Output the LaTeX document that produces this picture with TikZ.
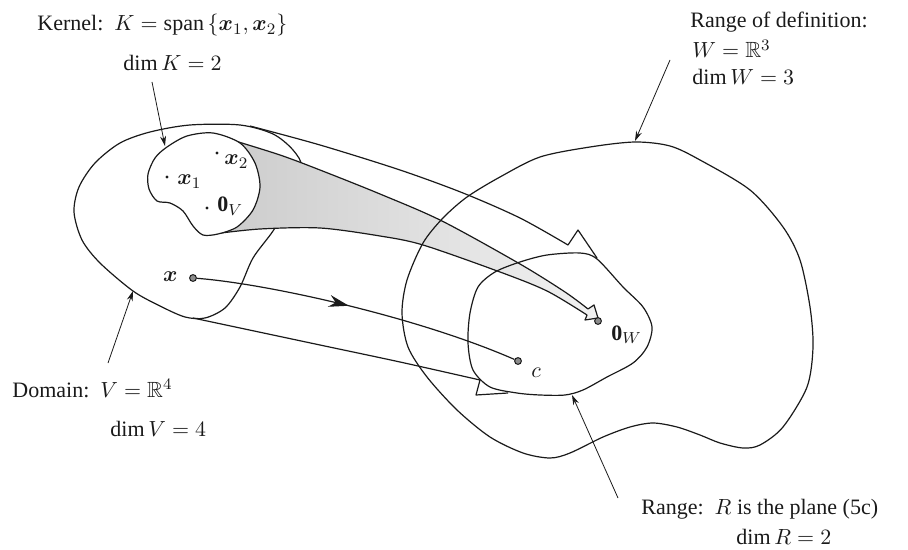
\documentclass[tikz,border=0pt]{standalone}
\usepackage{amsmath}
\usepackage{amssymb}
\usepackage{fontspec}
\setmainfont{Liberation Serif}
\usepackage{tikz}
\usepackage{xcolor}
\usetikzlibrary{arrows.meta, decorations.markings}
\definecolor{mapInk}{HTML}{1A1A1A}
\definecolor{mapGray}{HTML}{8C8C8C}
\tikzset{
  blob/.style={draw=mapInk, line width=0.6pt, line join=round},
  pointer/.style={draw=mapInk, line width=0.4pt, -{Stealth[length=5pt,width=3pt]}},
  tinydot/.style={circle, fill=mapInk, inner sep=0pt, minimum size=1.6pt},
  ringdot/.style={circle, draw=mapInk, fill=mapGray, line width=0.5pt, inner sep=0pt, minimum size=3.4pt},
  lbl/.style={anchor=base west, inner sep=0pt, text=mapInk},
  midhead/.style={postaction={decorate}, decoration={markings,
      mark=at position 0.47 with {\arrow{Stealth[length=10pt,width=6pt]}}}}
}

\begin{document}
\begin{tikzpicture}[x=0.5pt, y=-0.5pt, font=\fontsize{11}{13}\selectfont]
    \useasboundingbox (0,0) rectangle (908,550);
    % domain V
    \draw[blob] plot[smooth cycle] coordinates {(120,143) (150,132) (190,125) (240,125) (273,134)
      (293,150) (302,168) (292,200) (273,231) (253,258) (240,287) (225,308) (205,318) (185,317)
      (160,306) (133,291) (100,263) (82,240) (74,212) (79,187) (95,163)};
    % shaded band, kernel -> 0_W
    \shadedraw[blob, left color=mapGray!45, right color=mapGray!12]
      plot[smooth] coordinates {(232,140) (280,155) (320,170) (380,194) (442,221) (520,264) (565,292) (588,309)}
      -- (594,305) -- (598,318) -- (585,320) -- (587,315)
      -- plot[smooth] coordinates {(587,315) (547,291) (500,272) (423,245) (380,236) (320,228) (260,229) (213,234)}
      -- (225,190) -- cycle;
    % kernel K
    \filldraw[blob, fill=white] plot[smooth cycle] coordinates {(167,147) (187,136) (213,133) (240,143)
      (255,163) (260,187) (253,210) (237,227) (218,234) (203,235) (193,226) (183,211) (170,203)
      (157,201) (149,189) (148,174) (155,158)};
    \node[tinydot] (x1) at (167,177) {};
    \node[tinydot] (x2) at (217,153) {};
    \node[tinydot] (zv) at (207,208) {};
    \node[lbl] (x1Label) at (177,185) {$\boldsymbol{x}_1$};
    \node[lbl] (x2Label) at (224,165) {$\boldsymbol{x}_2$};
    \node[lbl] (zvLabel) at (217,212) {$\mathbf{0}_V$};

    % range of definition W and range R
    \draw[blob] plot[smooth cycle] coordinates {(635,142) (670,146) (700,160) (750,190) (783,227)
      (800,260) (810,307) (813,347) (807,387) (783,427) (760,445) (743,448) (720,443) (700,435)
      (677,427) (653,423) (630,427) (603,437) (570,453) (550,458) (523,453) (490,437) (457,410)
      (427,377) (408,347) (402,313) (407,280) (423,243) (443,218) (467,197) (500,177) (540,157) (590,147)};
    \draw[blob] plot[smooth cycle] coordinates {(520,262) (547,255) (580,253) (597,259) (623,287)
      (643,307) (652,327) (647,347) (633,363) (607,377) (583,390) (565,395) (540,395) (517,393)
      (490,387) (473,370) (468,343) (470,313) (478,287) (495,272)};

    % broad mapping arrow V -> R
    \draw[blob] plot[smooth] coordinates {(250,126) (320,145) (400,170) (463,193) (520,218) (568,245)}
      -- (578,230) -- (597,258);
    \draw[blob] plot[smooth] coordinates {(193,318) (320,345) (400,362) (480,380)}
      -- (476,395) -- (508,393);

    % x -> c
    \node[ringdot] (xpt) at (193,278) {};
    \node[ringdot] (cpt) at (518,361) {};
    \node[ringdot] (zw) at (598,321) {};
    \draw[blob, midhead] (xpt) .. controls (270,284) and (420,318) .. (cpt);
    \node[lbl, anchor=base east] (xLabel) at (178,282) {$\boldsymbol{x}$};
    \node[lbl] (cLabel) at (531,377) {$c$};
    \node[lbl] (zwLabel) at (611,340) {$\mathbf{0}_W$};

    % labels
    \node[lbl] (kerLabel) at (37,31) {Kernel:\ \ $K = \operatorname{span}\,\{\boldsymbol{x}_1,\boldsymbol{x}_2\}$};
    \node[lbl] (kerDim) at (123,71) {$\dim K = 2$};
    \node[lbl] (wLabel) at (690,28) {Range of definition:};
    \node[lbl] (wSpace) at (692,58) {$W = \mathbb{R}^3$};
    \node[lbl] (wDim) at (692,85) {$\dim W = 3$};
    \node[lbl] (vLabel) at (12,397) {Domain:\ \ $V = \mathbb{R}^4$};
    \node[lbl] (vDim) at (110,436) {$\dim V = 4$};
    \node[lbl] (rLabel) at (641,514) {Range:\ \ $R$ is the plane (5c)};
    \node[lbl] (rDim) at (736,544) {$\dim R = 2$};

    % pointers
    \coordinate (kerFrom) at (152,82);  \coordinate (kerTip) at (165,146);
    \coordinate (wFrom) at (670,60);    \coordinate (wTip) at (635,141);
    \coordinate (vFrom) at (108,363);   \coordinate (vTip) at (133,291);
    \coordinate (rFrom) at (618,498);   \coordinate (rTip) at (572,395);
    \draw[pointer] (kerFrom) -- (kerTip);
    \draw[pointer] (wFrom) -- (wTip);
    \draw[pointer] (vFrom) -- (vTip);
    \draw[pointer] (rFrom) -- (rTip);
\end{tikzpicture}
\end{document}
